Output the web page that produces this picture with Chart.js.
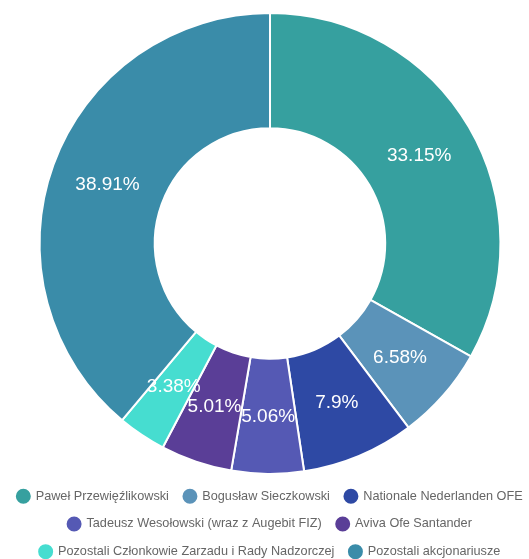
<!DOCTYPE html>
<html>
<head>
<meta charset="utf-8">
<script src="https://cdn.jsdelivr.net/npm/chart.js@4"></script>
<style>
  html, body { margin: 0; padding: 0; background: #fff; overflow: hidden; }
  #wrap { width: 540px; height: 568px; position: relative; }
</style>
</head>
<body>
<div id="wrap"><canvas id="chart"></canvas></div>
<script>
const labels = [
  "Paweł Przewięźlikowski",
  "Bogusław Sieczkowski",
  "Nationale Nederlanden OFE",
  "Tadeusz Wesołowski (wraz z Augebit FIZ)",
  "Aviva Ofe Santander",
  "Pozostali Członkowie Zarzadu i Rady Nadzorczej",
  "Pozostali akcjonariusze"
];
const shares = [33.15, 6.58, 7.9, 5.06, 5.01, 3.38, 38.91];
const colors = ["#36a09f", "#5b93b9", "#2e49a4", "#5559b4", "#5a3e97", "#46ddd0", "#3a8ca9"];

// draws the percent text in the middle of each slice
const sliceLabels = {
  id: "sliceLabels",
  afterDatasetsDraw(chart) {
    const ctx = chart.ctx;
    const meta = chart.getDatasetMeta(0);
    ctx.save();
    ctx.fillStyle = "#ffffff";
    ctx.font = "19px 'Liberation Sans', Arial, sans-serif";
    ctx.textAlign = "center";
    ctx.textBaseline = "middle";
    meta.data.forEach((arc, i) => {
      const p = arc.tooltipPosition();
      ctx.fillText(shares[i] + "%", p.x, p.y);
    });
    ctx.restore();
  }
};

new Chart(document.getElementById("chart"), {
  type: "doughnut",
  data: {
    labels: labels,
    datasets: [{
      data: shares,
      backgroundColor: colors,
      borderColor: "#ffffff",
      borderWidth: 2
    }]
  },
  options: {
    responsive: true,
    maintainAspectRatio: false,
    animation: false,
    cutout: "50%",
    layout: { padding: { top: 12, left: 0, right: 0, bottom: 0 } },
    plugins: {
      tooltip: { enabled: false },
      legend: {
        position: "bottom",
        labels: {
          usePointStyle: true,
          pointStyle: "circle",
          boxWidth: 12,
          boxHeight: 12,
          padding: 15,
          color: "#666666",
          font: { family: "'Liberation Sans', Arial, sans-serif", size: 12.7 }
        }
      }
    }
  },
  plugins: [sliceLabels]
});
</script>
</body>
</html>
